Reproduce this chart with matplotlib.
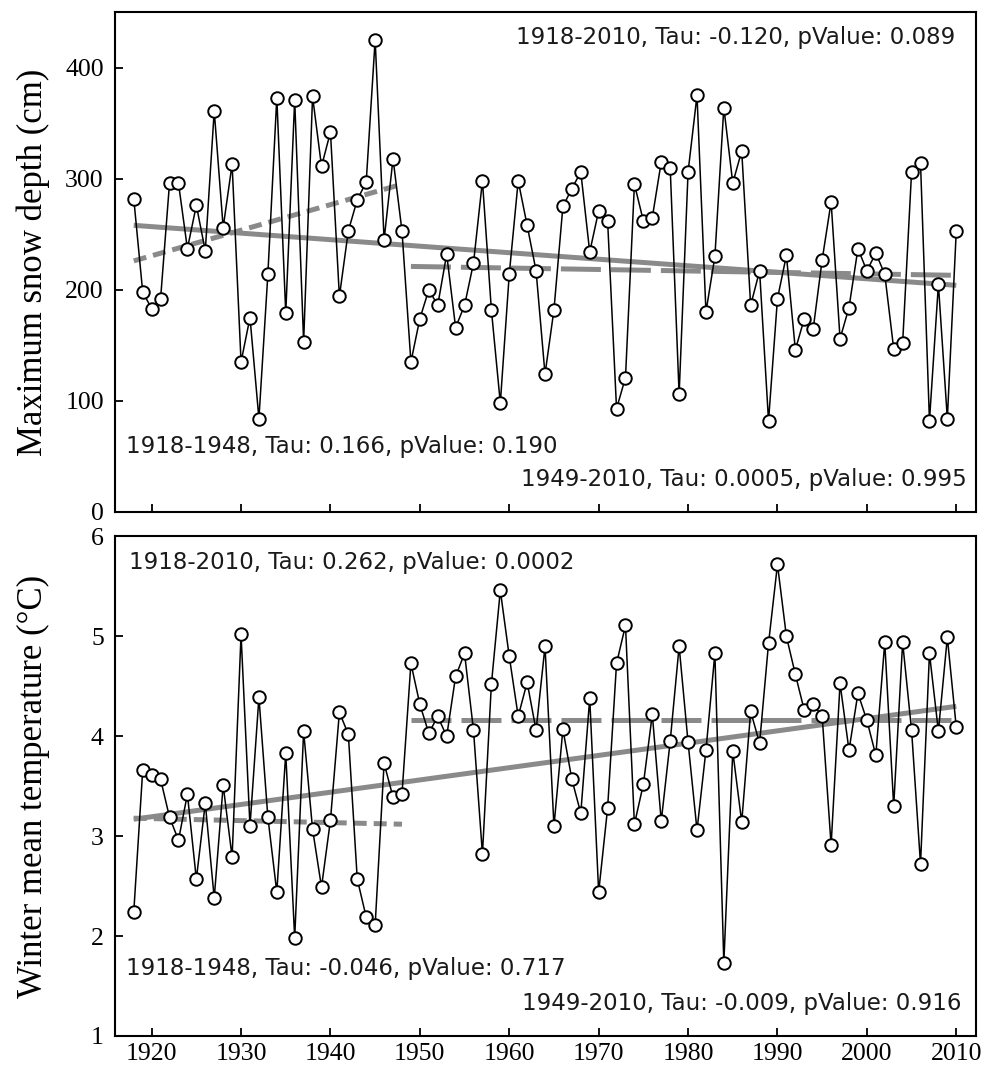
import matplotlib
matplotlib.use("Agg")
import matplotlib.pyplot as plt

years = list(range(1918, 2011))

snow_depth = [282, 198, 183, 192, 296, 296, 237, 276, 235, 361,
              256, 313, 135, 175, 84, 214, 373, 179, 371, 153,
              374, 311, 342, 194, 253, 281, 297, 425, 245, 318,
              253, 135, 174, 200, 186, 232, 166, 186, 224, 298,
              182, 98, 214, 298, 258, 217, 124, 182, 275, 291,
              306, 234, 271, 262, 93, 121, 295, 262, 265, 315,
              310, 106, 306, 375, 180, 230, 364, 296, 325, 186,
              217, 82, 192, 231, 146, 174, 165, 227, 279, 156,
              184, 237, 217, 233, 214, 147, 152, 306, 314, 82,
              205, 84, 253]

winter_temp = [2.24, 3.66, 3.61, 3.57, 3.19, 2.96, 3.42, 2.57, 3.33, 2.38,
               3.51, 2.79, 5.02, 3.10, 4.39, 3.19, 2.44, 3.83, 1.98, 4.05,
               3.07, 2.49, 3.16, 4.24, 4.02, 2.57, 2.19, 2.11, 3.73, 3.39,
               3.42, 4.73, 4.32, 4.03, 4.20, 4.00, 4.60, 4.83, 4.06, 2.82,
               4.52, 5.46, 4.80, 4.20, 4.54, 4.06, 4.90, 3.10, 4.07, 3.57,
               3.23, 4.38, 2.44, 3.28, 4.73, 5.11, 3.12, 3.52, 4.22, 3.15,
               3.95, 4.90, 3.94, 3.06, 3.86, 4.83, 1.73, 3.85, 3.14, 4.25,
               3.93, 4.93, 5.72, 5.00, 4.62, 4.26, 4.32, 4.20, 2.91, 4.53,
               3.86, 4.43, 4.16, 3.81, 4.94, 3.30, 4.94, 4.06, 2.72, 4.83,
               4.05, 4.99, 4.09]

# Trend line end points (start year, end year) and values
period_all = [1918, 2010]
period_early = [1918, 1948]
period_late = [1949, 2010]

snow_trend_all = [258, 204]
snow_trend_early = [226, 295]
snow_trend_late = [221, 213]

temp_trend_all = [3.17, 4.30]
temp_trend_early = [3.18, 3.12]
temp_trend_late = [4.16, 4.16]

snow_notes = ["1918-2010, Tau: -0.120, pValue: 0.089",
              "1918-1948, Tau: 0.166, pValue: 0.190",
              "1949-2010, Tau: 0.0005, pValue: 0.995"]
temp_notes = ["1918-2010, Tau: 0.262, pValue: 0.0002",
              "1918-1948, Tau: -0.046, pValue: 0.717",
              "1949-2010, Tau: -0.009, pValue: 0.916"]

plt.rcParams['font.family'] = ['Liberation Serif', 'DejaVu Serif']

fig = plt.figure(figsize=(9.87, 10.70), dpi=100)
ax1 = fig.add_axes([0.1165, 0.5215, 0.8723, 0.4673])
ax2 = fig.add_axes([0.1165, 0.0318, 0.8723, 0.4668])

trend_color = '#8a8a8a'


def draw_panel(ax, values, t_all, t_early, t_late, notes, note_pos):
    ax.plot(period_all, t_all, color=trend_color, lw=3.6, solid_capstyle='butt', zorder=1)
    ax.plot(period_early, t_early, color=trend_color, lw=3.6, dashes=(2.6, 1.4), zorder=1)
    ax.plot(period_late, t_late, color=trend_color, lw=3.6, dashes=(8, 2), zorder=1)
    ax.plot(years, values, color='black', lw=1.1, marker='o', ms=9,
            mfc='white', mec='black', mew=1.4, zorder=3)
    ax.set_xlim(1915.9, 2012.2)
    ax.set_xticks(range(1920, 2011, 10))
    for sp in ['top', 'right', 'left', 'bottom']:
        ax.spines[sp].set_linewidth(1.5)
    ax.tick_params(direction='in', length=6, width=1.3, labelsize=18.5,
                   top=False, right=False)
    ax.tick_params(axis='y', pad=8)
    ax.tick_params(axis='x', pad=5)
    for txt, (x, y, ha) in zip(notes, note_pos):
        ax.text(x, y, txt, transform=ax.transAxes, ha=ha, va='center',
                fontsize=16.5, family='DejaVu Sans', color='#1a1a1a')


draw_panel(ax1, snow_depth, snow_trend_all, snow_trend_early, snow_trend_late,
           snow_notes, [(0.9756, 0.948, 'right'), (0.0128, 0.130, 'left'),
                        (0.9895, 0.064, 'right')])
ax1.set_ylim(0, 450)
ax1.set_yticks([0, 100, 200, 300, 400])
ax1.tick_params(axis='x', labelbottom=False)
ax1.set_ylabel('Maximum snow depth (cm)', fontsize=25)
ax1.yaxis.set_label_coords(-0.0755, 0.5)

draw_panel(ax2, winter_temp, temp_trend_all, temp_trend_early, temp_trend_late,
           temp_notes, [(0.0163, 0.948, 'left'), (0.0128, 0.136, 'left'),
                        (0.9837, 0.065, 'right')])
ax2.set_ylim(1, 6)
ax2.set_yticks([1, 2, 3, 4, 5, 6])
ax2.set_ylabel('Winter mean temperature (°C)', fontsize=25)
ax2.yaxis.set_label_coords(-0.0755, 0.5)

fig.savefig('out.png', dpi=100)
